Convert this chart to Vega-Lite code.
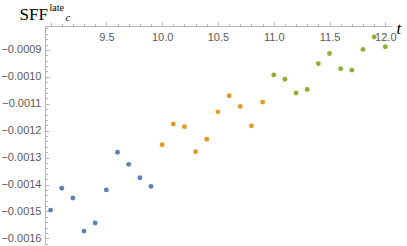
{
  "$schema": "https://vega.github.io/schema/vega-lite/v6.json",
  "autosize": "none",
  "padding": {"left": 45, "top": 26, "right": 15, "bottom": 2},
  "width": 347,
  "height": 218,
  "background": "white",
  "config": {
    "view": {"stroke": null},
    "axis": {"grid": false, "domainColor": "#b4b4b4", "tickColor": "#b4b4b4", "labelColor": "#5a5a5a", "labelFont": "Liberation Sans", "labelFontSize": 11, "domainWidth": 1, "tickWidth": 1}
  },
  "data": {"values": [
    {"t": 9.0, "v": -0.001495, "g": "a"},
    {"t": 9.1, "v": -0.001414, "g": "a"},
    {"t": 9.2, "v": -0.00145, "g": "a"},
    {"t": 9.3, "v": -0.001573, "g": "a"},
    {"t": 9.4, "v": -0.001543, "g": "a"},
    {"t": 9.5, "v": -0.00142, "g": "a"},
    {"t": 9.6, "v": -0.00128, "g": "a"},
    {"t": 9.7, "v": -0.001325, "g": "a"},
    {"t": 9.8, "v": -0.001375, "g": "a"},
    {"t": 9.9, "v": -0.001407, "g": "a"},
    {"t": 10.0, "v": -0.001252, "g": "b"},
    {"t": 10.1, "v": -0.001175, "g": "b"},
    {"t": 10.2, "v": -0.001185, "g": "b"},
    {"t": 10.3, "v": -0.001278, "g": "b"},
    {"t": 10.4, "v": -0.001232, "g": "b"},
    {"t": 10.5, "v": -0.00113, "g": "b"},
    {"t": 10.6, "v": -0.00107, "g": "b"},
    {"t": 10.7, "v": -0.00111, "g": "b"},
    {"t": 10.8, "v": -0.001182, "g": "b"},
    {"t": 10.9, "v": -0.001094, "g": "b"},
    {"t": 11.0, "v": -0.000993, "g": "c"},
    {"t": 11.1, "v": -0.001009, "g": "c"},
    {"t": 11.2, "v": -0.00106, "g": "c"},
    {"t": 11.3, "v": -0.001047, "g": "c"},
    {"t": 11.4, "v": -0.000951, "g": "c"},
    {"t": 11.5, "v": -0.000913, "g": "c"},
    {"t": 11.6, "v": -0.00097, "g": "c"},
    {"t": 11.7, "v": -0.000975, "g": "c"},
    {"t": 11.8, "v": -0.000898, "g": "c"},
    {"t": 11.9, "v": -0.000852, "g": "c"},
    {"t": 12.0, "v": -0.000888, "g": "c"}
  ]},
  "resolve": {"axis": {"x": "independent", "y": "independent"}},
  "layer": [
    {
      "mark": {"type": "point", "filled": true, "opacity": 0, "size": 24},
      "encoding": {
        "x": {"field": "t", "type": "quantitative", "scale": {"domain": [8.95, 12.06], "nice": false, "zero": false},
          "axis": {"orient": "top", "values": [9.1, 9.2, 9.3, 9.4, 9.6, 9.7, 9.8, 9.9, 10.1, 10.2, 10.3, 10.4, 10.6, 10.7, 10.8, 10.9, 11.1, 11.2, 11.3, 11.4, 11.6, 11.7, 11.8, 11.9], "labels": false, "tickSize": 2.5, "domain": false,
            "title": "late", "titleFont": "Liberation Serif", "titleFontSize": 10, "titleFontWeight": "normal", "titleColor": "black", "titleAngle": 0, "titleAlign": "left", "titleBaseline": "alphabetic", "titleX": 4, "titleY": -16}},
        "y": {"field": "v", "type": "quantitative", "scale": {"domain": [-0.001621, -0.000811], "nice": false, "zero": false},
          "axis": {"orient": "left", "values": [-0.00162, -0.00158, -0.00156, -0.00154, -0.00152, -0.00148, -0.00146, -0.00144, -0.00142, -0.00138, -0.00136, -0.00134, -0.00132, -0.00128, -0.00126, -0.00124, -0.00122, -0.00118, -0.00116, -0.00114, -0.00112, -0.00108, -0.00106, -0.00104, -0.00102, -0.00098, -0.00096, -0.00094, -0.00092, -0.00088, -0.00086, -0.00084, -0.00082], "labels": false, "tickSize": -2.5, "domain": false,
            "title": "c", "titleFont": "Liberation Serif", "titleFontSize": 11, "titleFontStyle": "italic", "titleFontWeight": "normal", "titleColor": "black", "titleAngle": 0, "titleAlign": "left", "titleBaseline": "alphabetic", "titleX": 20, "titleY": -6}}
      }
    },
    {
      "mark": {"type": "point", "filled": true, "opacity": 1, "size": 24},
      "encoding": {
        "x": {"field": "t", "type": "quantitative", "scale": {"domain": [8.95, 12.06], "nice": false, "zero": false},
          "axis": {"orient": "top", "values": [9.0, 9.5, 10.0, 10.5, 11.0, 11.5, 12.0], "labelExpr": "datum.value == 9 ? '' : format(datum.value, '.1f')", "tickSize": 4, "labelPadding": -9, "labelBaseline": "top", "labelOverlap": false, "labelFlush": false,
            "title": "t", "titleFont": "Liberation Serif", "titleFontSize": 17, "titleFontStyle": "italic", "titleFontWeight": "normal", "titleColor": "black", "titleAngle": 0, "titleAlign": "left", "titleBaseline": "alphabetic", "titleX": 351, "titleY": 7}},
        "y": {"field": "v", "type": "quantitative", "scale": {"domain": [-0.001621, -0.000811], "nice": false, "zero": false},
          "axis": {"orient": "left", "values": [-0.0016, -0.0015, -0.0014, -0.0013, -0.0012, -0.0011, -0.001, -0.0009], "format": ".4f", "tickSize": -4, "labelPadding": 8, "labelOverlap": false, "labelFlush": false,
            "title": "SFF", "titleFont": "Liberation Serif", "titleFontSize": 17, "titleFontWeight": "normal", "titleColor": "black", "titleAngle": 0, "titleAlign": "left", "titleBaseline": "alphabetic", "titleX": -26, "titleY": -7}},
        "color": {"field": "g", "type": "nominal", "legend": null, "scale": {"domain": ["a", "b", "c"], "range": ["#5E81B5", "#E19C24", "#8FB032"]}}
      }
    }
  ]
}
